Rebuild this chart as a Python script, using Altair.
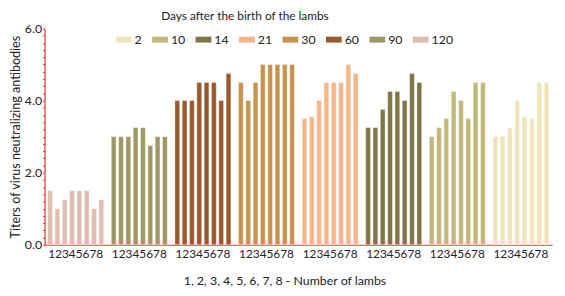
import altair as alt
import pandas as pd

days_order = ["120", "90", "60", "30", "21", "14", "10", "2"]
legend_order = ["2", "10", "14", "21", "30", "60", "90", "120"]
legend_colors = ["#efe5bd", "#c4b77c", "#7f7647", "#f6b68c", "#c7944f", "#985a2b", "#a09862", "#dfbdb1"]
lambs = ["1", "2", "3", "4", "5", "6", "7", "8"]

titers = {
    "120": [1.5, 1.0, 1.25, 1.5, 1.5, 1.5, 1.0, 1.25],
    "90": [3.0, 3.0, 3.0, 3.25, 3.25, 2.75, 3.0, 3.0],
    "60": [4.0, 4.0, 4.0, 4.5, 4.5, 4.5, 4.0, 4.75],
    "30": [4.5, 4.0, 4.5, 5.0, 5.0, 5.0, 5.0, 5.0],
    "21": [3.5, 3.55, 4.0, 4.5, 4.5, 4.5, 5.0, 4.75],
    "14": [3.25, 3.25, 3.75, 4.25, 4.25, 4.0, 4.75, 4.5],
    "10": [3.0, 3.25, 3.5, 4.25, 4.0, 3.5, 4.5, 4.5],
    "2": [3.0, 3.0, 3.25, 4.0, 3.55, 3.5, 4.5, 4.5],
}

rows = []
for d in days_order:
    for lamb, v in zip(lambs, titers[d]):
        rows.append({"Day": d, "Lamb": lamb, "Titer": v})
df = pd.DataFrame(rows)

y_ticks = [round(i * 0.2, 1) for i in range(31)]
red = "#d8342e"
font = "Lato"

chart = alt.Chart(df).mark_bar(
    stroke="white", strokeOpacity=0.45, strokeWidth=0.8
).encode(
    x=alt.X("Day:N", sort=days_order,
            scale=alt.Scale(paddingInner=0.12, paddingOuter=0.05),
            axis=alt.Axis(title="1, 2, 3, 4, 5, 6, 7, 8 - Number of lambs",
                          labelExpr="'12345678'", labelAngle=0, ticks=False,
                          domainColor=red, domainWidth=1.2, labelPadding=4,
                          titlePadding=15, titleFontSize=12.5, titleX=243)),
    xOffset=alt.XOffset("Lamb:N", sort=lambs, scale=alt.Scale(paddingInner=0.35)),
    y=alt.Y("Titer:Q", scale=alt.Scale(domain=[0, 6], nice=False),
            axis=alt.Axis(title="Titers of virus neutralizing antibodies",
                          values=y_ticks,
                          labelExpr="(datum.value == 0 || datum.value == 2 || datum.value == 4 || datum.value == 6) ? format(datum.value, '.1f') : ''",
                          tickColor=red, tickSize=2, domainColor=red, domainWidth=1.2,
                          grid=False, labelPadding=1, titlePadding=2,
                          labelFontSize=12.5, titleFontSize=12.7)),
    color=alt.Color("Day:N", sort=legend_order,
                    scale=alt.Scale(domain=legend_order, range=legend_colors),
                    legend=alt.Legend(title=None, orient="none", direction="horizontal",
                                      columns=8, legendX=72, legendY=3,
                                      symbolType="M-1,-0.375H1V0.375H-1Z", symbolSize=256,
                                      symbolStrokeWidth=0, columnPadding=10,
                                      labelOffset=3, labelFontSize=12.5)),
).properties(
    width=514, height=219,
    title=alt.Title("Days after the birth of the lambs", fontSize=12,
                    fontWeight="normal", font=font, color="#222", offset=0, dx=-54),
    padding={"left": 1, "top": 0, "right": 5, "bottom": 0},
).configure_view(stroke=None).configure_axis(
    labelFont=font, titleFont=font, labelFontSize=12, titleFontSize=12,
    titleFontWeight="normal", labelColor="#222", titleColor="#222",
).configure_legend(labelFont=font, labelColor="#222")

chart.save("out.html", embed_options={"renderer": "svg", "actions": False})
